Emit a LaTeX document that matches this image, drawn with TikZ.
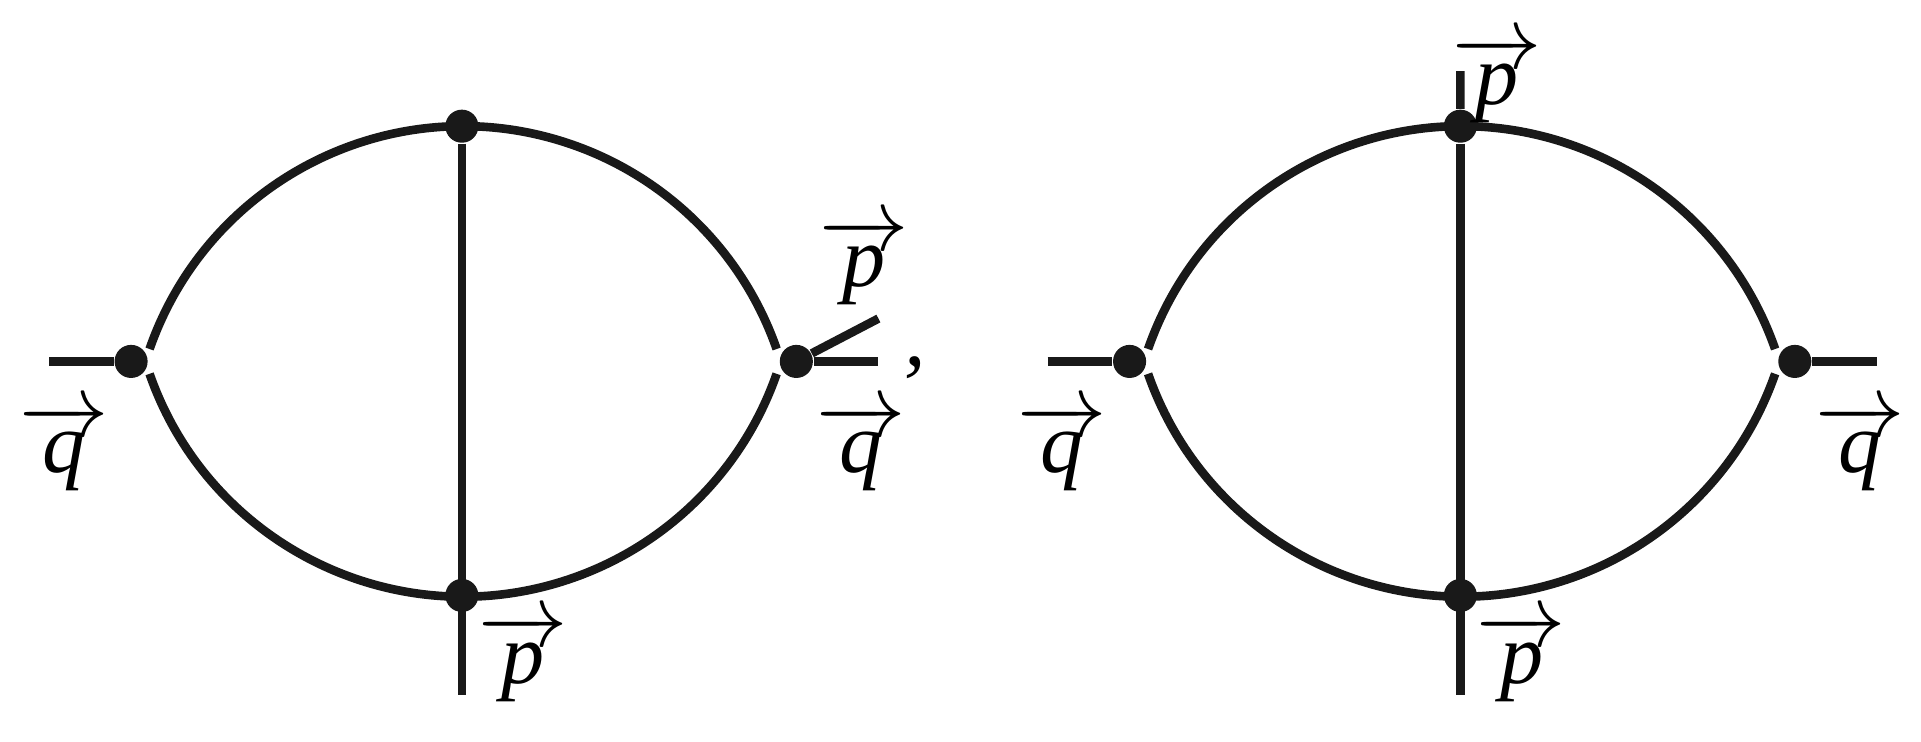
\documentclass[tikz,border=0pt]{standalone}
\usepackage{fontspec}
\setmainfont{Liberation Serif}
\begin{document}
\begin{tikzpicture}[
  ln/.style={line width=2pt,black!90},
  vx/.style={circle,fill=black!90,inner sep=0pt,minimum size=0.27cm},
  lb/.style={inner sep=0pt,font=\fontsize{20}{24}\selectfont}]
\useasboundingbox (0,0) rectangle (15.68,6.05);
\newcommand{\vq}{$\overrightarrow{\mbox{\itshape q}}$}
\newcommand{\vp}{$\overrightarrow{\mbox{\itshape p}}$}
\foreach \o/\s in {0/a,8.15/b}{
  \begin{scope}[xshift=\o cm]
  \node[vx] (L\s) at (1.07,3.10) {};
  \node[vx] (R\s) at (6.50,3.10) {};
  \node[vx] (T\s) at (3.77,5.02) {};
  \node[vx] (B\s) at (3.77,1.19) {};
  \draw[ln] (3.78,2.31) ++(160.8:2.71) arc (160.8:19.2:2.71);
  \draw[ln] (3.78,3.89) ++(-160.8:2.71) arc (-160.8:-19.2:2.71);
  \coordinate (Li\s) at (0.40,3.10);
  \coordinate (Bo\s) at (3.77,0.38);
  \draw[ln] (Li\s) -- (L\s);
  \draw[ln] (T\s) -- (Bo\s);
  \node[lb] (qi\s) at (0.52,2.40) {\vq};
  \node[lb] (pb\s) at (4.27,0.68) {\vp};
  \end{scope}}
\coordinate (Ra1) at (7.17,3.10);
\coordinate (Ra2) at (7.17,3.45);
\draw[ln] (Ra) -- (Ra1);
\draw[ln] (Ra) -- (Ra2);
\node[lb] (comma) at (7.47,3.05) {\itshape ,};
\node[lb] (pa) at (7.05,3.92) {\vp};
\node[lb] (qa) at (7.03,2.40) {\vq};
\coordinate (Tt) at (11.92,5.47);
\draw[ln] (Tt) -- (Tb);
\coordinate (Rb1) at (15.32,3.10);
\draw[ln] (Rb) -- (Rb1);
\node[lb] (ptop) at (12.22,5.40) {\vp};
\node[lb] (qb) at (15.18,2.40) {\vq};
\end{tikzpicture}
\end{document}
